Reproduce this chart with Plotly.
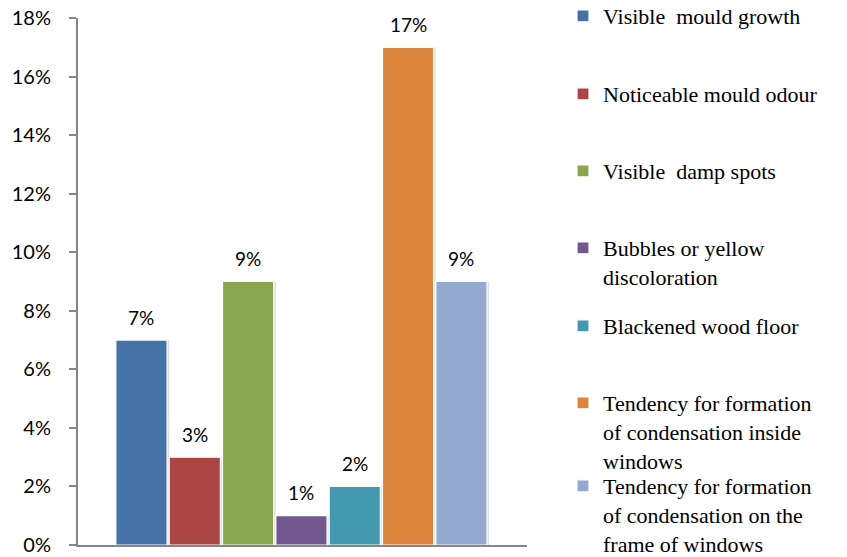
import plotly.graph_objects as go

categories = [
    "Visible  mould growth",
    "Noticeable mould odour",
    "Visible  damp spots",
    "Bubbles or yellow<br>discoloration",
    "Blackened wood floor",
    "Tendency for formation<br>of condensation inside<br>windows",
    "Tendency for formation<br>of condensation on the<br>frame of windows",
]
values = [0.07, 0.03, 0.09, 0.01, 0.02, 0.17, 0.09]
colors = ["#4572A7", "#AA4643", "#89A54E", "#71588F", "#4198AF", "#DB843D", "#93A9CF"]
y_ticks = [0, 0.02, 0.04, 0.06, 0.08, 0.10, 0.12, 0.14, 0.16, 0.18]

fig = go.Figure()

# plot-area geometry (pixels) used for legend placement
PLOT_TOP, PLOT_BOTTOM, PLOT_LEFT, PLOT_RIGHT = 18, 545, 78, 527
legend_line_centers = [17, 95, 172, 249, 327, 404, 487]

def py(p):
    return (PLOT_BOTTOM - p) / (PLOT_BOTTOM - PLOT_TOP)

def px(p):
    return (p - PLOT_LEFT) / (PLOT_RIGHT - PLOT_LEFT)

# soft drop shadows behind the bars (same data, slightly offset)
fig.add_trace(go.Bar(
    x=categories, y=values, offset=-0.44, width=0.96,
    marker=dict(color="rgba(0,0,0,0.13)", line=dict(width=0)),
    showlegend=False, hoverinfo="skip",
))

layout_legends = {}
for i, (cat, val, col) in enumerate(zip(categories, values, colors)):
    lname = "legend" if i == 0 else f"legend{i+1}"
    fig.add_trace(go.Bar(
        x=[cat], y=[val], name=cat,
        marker=dict(color=col, line=dict(color="white", width=1.2)),
        legend=lname, hoverinfo="skip",
    ))
    layout_legends[lname] = dict(
        x=px(563), y=py(legend_line_centers[i] - 22),
        xanchor="left", yanchor="top", valign="top",
        bgcolor="rgba(0,0,0,0)",
        font=dict(family="Liberation Serif", size=22, color="#000000"),
    )
    fig.add_annotation(
        x=cat, y=val, text=f"{round(val*100)}%", showarrow=False,
        yanchor="middle", yshift=23,
        font=dict(family="Lato", size=19, color="#000000"),
    )

fig.update_layout(
    width=847, height=557,
    margin=dict(l=PLOT_LEFT, r=847 - PLOT_RIGHT, t=PLOT_TOP, b=557 - PLOT_BOTTOM,
                autoexpand=False),
    paper_bgcolor="white", plot_bgcolor="white",
    barmode="overlay", bargap=0.04,
    showlegend=True,
    **layout_legends,
)
fig.update_xaxes(
    type="category", categoryorder="array", categoryarray=categories,
    range=[-1.19, 7.23], showticklabels=False, ticks="",
    showline=True, linecolor="#868686", linewidth=2, showgrid=False, zeroline=False,
)
fig.update_yaxes(
    range=[0, 0.18], tickvals=y_ticks, tickformat=".0%",
    ticks="outside", ticklen=7, tickcolor="#868686", tickwidth=2,
    showline=True, linecolor="#868686", linewidth=2, showgrid=False, zeroline=False,
    tickfont=dict(family="Lato", size=20, color="#000000"),
    ticklabelstandoff=14,
)

fig.write_html(
    "out.html",
    config={"displayModeBar": False},
    post_script="document.body.style.margin='0';document.body.style.overflow='hidden';",
)
